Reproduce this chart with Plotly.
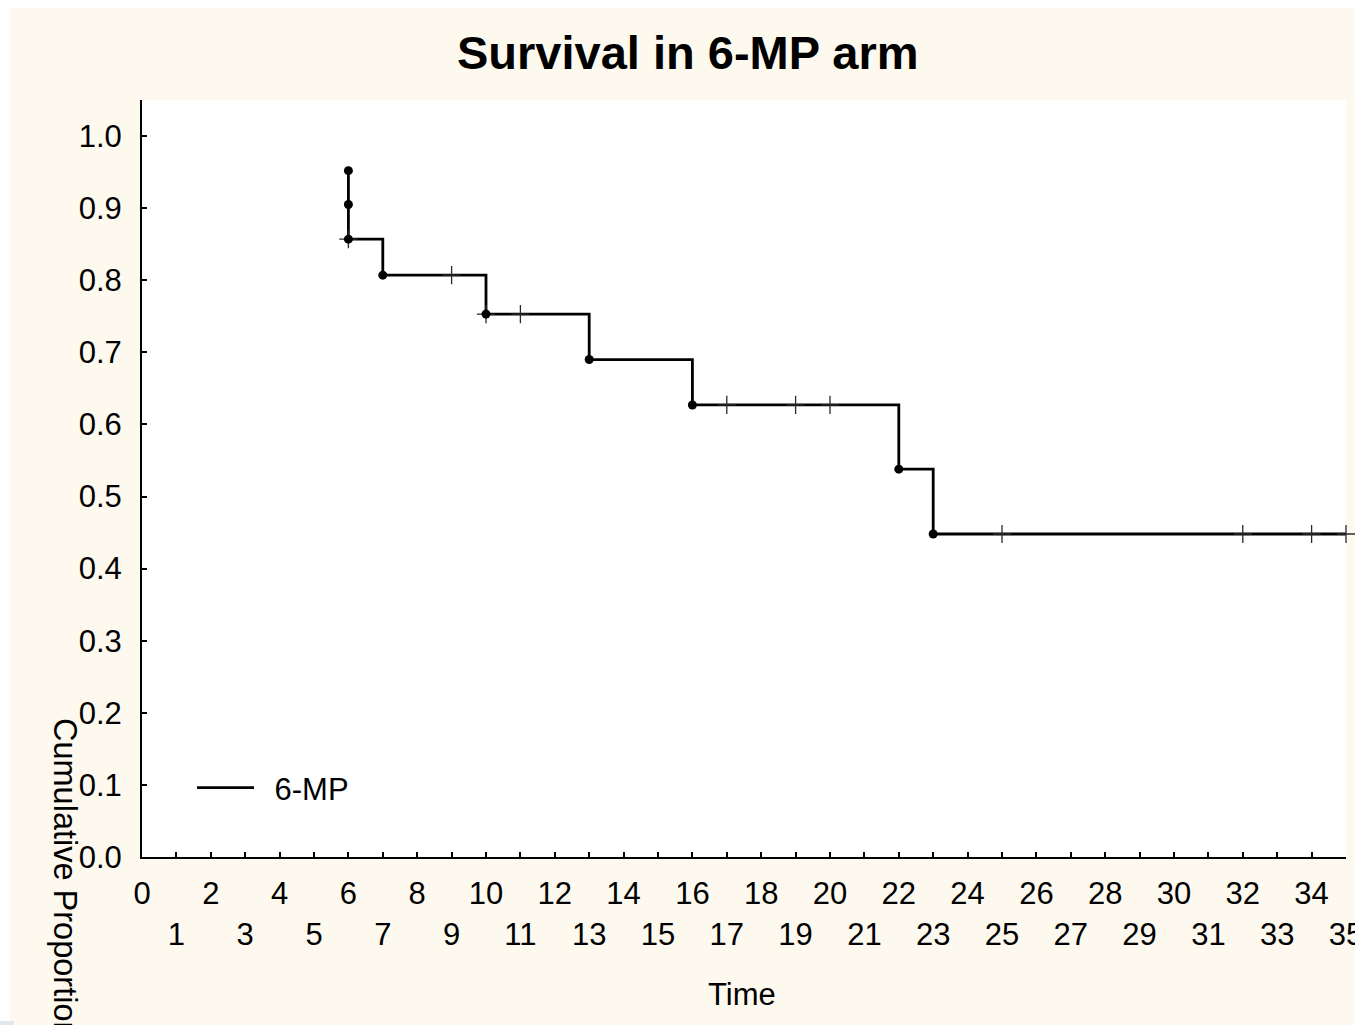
import plotly.graph_objects as go

# Kaplan-Meier estimate for the 6-MP arm (step points)
step_time = [6, 6, 6, 7, 10, 13, 16, 22, 23, 35]
step_surv = [0.952, 0.905, 0.857, 0.807, 0.753, 0.690, 0.627, 0.538, 0.448, 0.448]

# Failure (event) points
event_time = [6, 6, 6, 7, 10, 13, 16, 22, 23]
event_surv = [0.952, 0.905, 0.857, 0.807, 0.753, 0.690, 0.627, 0.538, 0.448]

# Censored observations
cens_time = [6, 9, 10, 11, 17, 19, 20, 25, 32, 34, 35]
cens_surv = [0.857, 0.807, 0.753, 0.753, 0.627, 0.627, 0.627, 0.448, 0.448, 0.448, 0.448]

x_ticks = list(range(0, 36))
x_ticktext = [str(v) if v % 2 == 0 else "<br>" + str(v) for v in x_ticks]
y_ticks = [round(0.1 * i, 1) for i in range(11)]
y_ticktext = [f"{v:.1f}" for v in y_ticks]

W, H = 1355, 1025
L, R, T, B = 142, 1346, 100, 857
FONT = "Arial, 'Liberation Sans', sans-serif"
CREAM = "#FDF9EE"


def px_x(px):
    return (px - L) / (R - L)


def px_y(py):
    return (B - py) / (B - T)


fig = go.Figure()

fig.add_trace(go.Scatter(
    x=step_time, y=step_surv, mode="lines", name="\u20026-MP",
    line=dict(color="black", width=2.8, shape="hv"),
    showlegend=True,
))
fig.add_trace(go.Scatter(
    x=cens_time, y=cens_surv, mode="markers", showlegend=False,
    marker=dict(symbol="cross-thin", size=13, color="#2a2a2a",
                line=dict(color="#2a2a2a", width=1.3)),
    cliponaxis=False,
))
fig.add_trace(go.Scatter(
    x=event_time, y=event_surv, mode="markers", showlegend=False,
    marker=dict(symbol="circle", size=9, color="black"),
    cliponaxis=False,
))

fig.update_layout(
    width=W, height=H,
    margin=dict(l=L, r=W - R, t=T, b=H - B, pad=0, autoexpand=False),
    paper_bgcolor=CREAM,
    plot_bgcolor="white",
    font=dict(family=FONT, size=31, color="black"),
    showlegend=True,
    legend=dict(x=px_x(192), y=px_y(788), xanchor="left", yanchor="middle",
                bgcolor="rgba(0,0,0,0)", font=dict(size=31), itemwidth=57),
    xaxis=dict(
        range=[0, 35], tickvals=x_ticks, ticktext=x_ticktext,
        showgrid=False, zeroline=False, automargin=False,
        showline=True, linecolor="black", linewidth=2,
        ticks="inside", ticklen=5, tickwidth=1.5, tickcolor="black",
        tickangle=0, ticklabelstandoff=8, ticklabeloverflow="allow",
    ),
    yaxis=dict(
        range=[0, 1.05], tickvals=y_ticks, ticktext=y_ticktext,
        showgrid=False, zeroline=False, automargin=False,
        showline=True, linecolor="black", linewidth=2,
        ticks="inside", ticklen=5, tickwidth=1.5, tickcolor="black",
        ticklabelstandoff=12,
    ),
    shapes=[
        # white border strips around the cream panel
        dict(type="rect", xref="paper", yref="paper", layer="below",
             x0=px_x(0), x1=px_x(10), y0=px_y(H), y1=px_y(0),
             fillcolor="white", line=dict(width=0)),
        dict(type="rect", xref="paper", yref="paper", layer="below",
             x0=px_x(0), x1=px_x(W), y0=px_y(8), y1=px_y(0),
             fillcolor="white", line=dict(width=0)),
        dict(type="rect", xref="paper", yref="paper", layer="below",
             x0=px_x(0), x1=px_x(14), y0=px_y(H), y1=px_y(1021),
             fillcolor="#E3E7EC", line=dict(width=0)),
    ],
    annotations=[
        dict(text="<b>Survival in 6-MP arm</b>", xref="paper", yref="paper",
             x=px_x(688), y=px_y(52), xanchor="center", yanchor="middle",
             showarrow=False, font=dict(size=47)),
        dict(text="Time", xref="paper", yref="paper",
             x=px_x(742), y=px_y(994), xanchor="center", yanchor="middle",
             showarrow=False, font=dict(size=31)),
        dict(text="Cumulative Proportion", xref="paper", yref="paper",
             x=px_x(65), y=px_y(716), xanchor="center", yanchor="top",
             textangle=90, showarrow=False, font=dict(size=32.5)),
    ],
)

fig.write_html("out.html")
